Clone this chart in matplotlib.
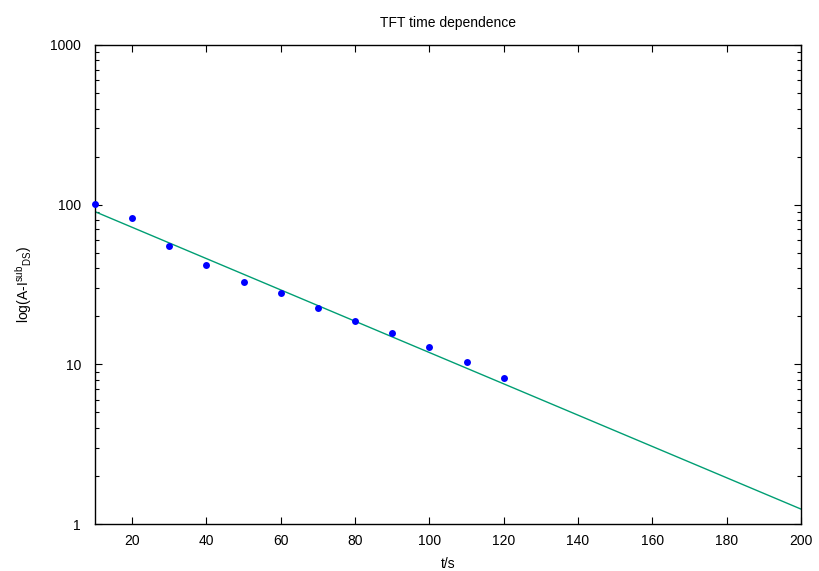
import matplotlib
matplotlib.use("Agg")
import matplotlib.pyplot as plt
import numpy as np
from matplotlib.ticker import LogLocator, NullFormatter

plt.rcParams['font.family'] = ['Liberation Sans', 'DejaVu Sans']
plt.rcParams['mathtext.fontset'] = 'custom'
plt.rcParams['mathtext.rm'] = 'Liberation Sans'
plt.rcParams['mathtext.it'] = 'Liberation Sans'

t = [10, 20, 30, 40, 50, 60, 70, 80, 90, 100, 110, 120]
signal = [101, 82.3, 55.4, 41.6, 33.0, 28.0, 22.6, 18.8, 15.6, 12.9, 10.3, 8.2]
fit_t = [10, 200]
fit_y = [90.4, 1.24]
xticks = [20, 40, 60, 80, 100, 120, 140, 160, 180, 200]
yticks = [1, 10, 100, 1000]
yticklabels = ['1', '10', '100', '1000']

fig = plt.figure(figsize=(8.2, 5.71), dpi=100)
ax = fig.add_axes([95/820, 1-524/571, (801-95)/820, (524-45)/571])

tt = np.linspace(fit_t[0], fit_t[1], 200)
k = np.log(fit_y[0]/fit_y[1])/(fit_t[1]-fit_t[0])
ax.plot(tt, fit_y[0]*np.exp(-k*(tt-fit_t[0])), color='#009e73', lw=1.0, zorder=2)
ax.plot(t, signal, 'o', color='#0000ff', ms=5, mec='none', zorder=3, clip_on=False)

ax.set_yscale('log')
ax.set_xlim(10, 200)
ax.set_ylim(1, 1000)
ax.set_xticks(xticks)
ax.set_yticks(yticks)
ax.set_yticklabels(yticklabels)
ax.yaxis.set_minor_locator(LogLocator(base=10, subs=np.arange(2, 10)))
ax.yaxis.set_minor_formatter(NullFormatter())
ax.tick_params(which='both', direction='in', top=True, right=True, labelsize=10, width=0.8)
ax.tick_params(which='major', length=5)
ax.tick_params(axis='y', which='major', pad=10)
ax.tick_params(axis='x', which='major', pad=7)
ax.tick_params(which='minor', length=3)
for s in ax.spines.values():
    s.set_linewidth(1.0)

ax.set_title('TFT time dependence', fontsize=10, pad=13)
ax.set_xlabel('t/s', fontsize=10, labelpad=7)
ax.set_ylabel(r'log(A-I$^{\rm sub}$$_{\rm DS}$)', fontsize=10, labelpad=12)

fig.savefig('out.png', dpi=100)
